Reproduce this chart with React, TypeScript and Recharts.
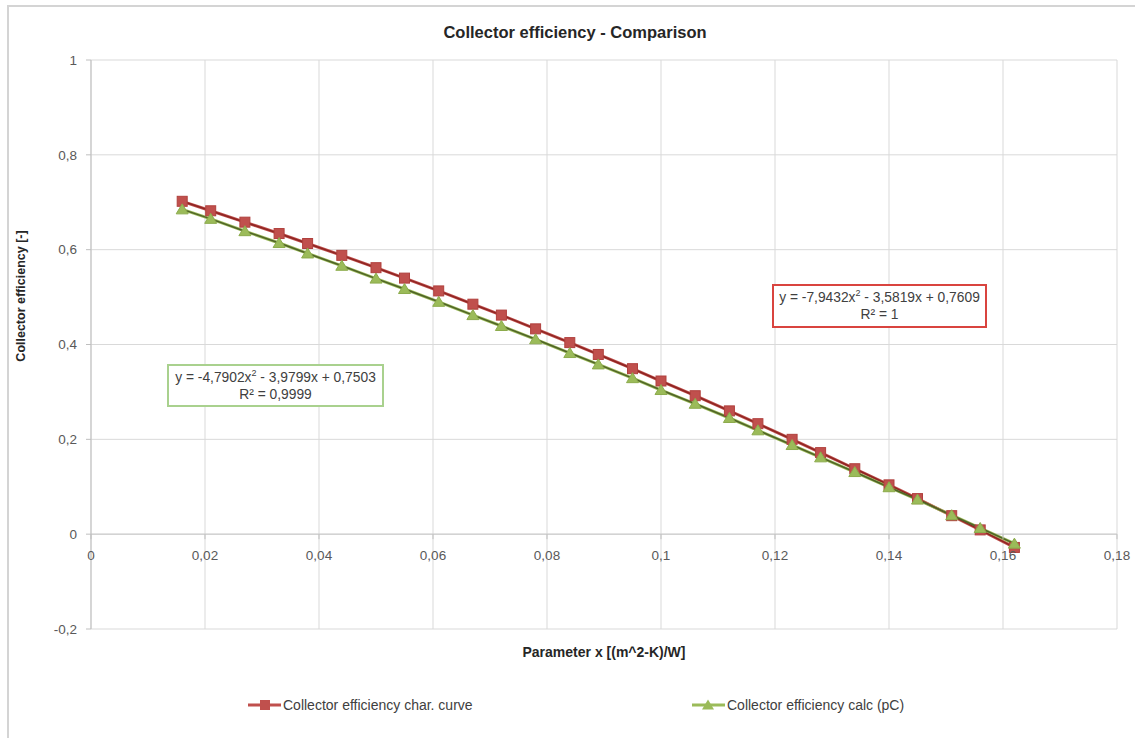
import React from "react";
import {
  LineChart,
  Line,
  XAxis,
  YAxis,
  CartesianGrid,
  ReferenceLine,
} from "recharts";

// parameter x [(m^2-K)/W]
const xValues = [
  0.016, 0.021, 0.027, 0.033, 0.038, 0.044, 0.05, 0.055, 0.061, 0.067, 0.072,
  0.078, 0.084, 0.089, 0.095, 0.1, 0.106, 0.112, 0.117, 0.123, 0.128, 0.134,
  0.14, 0.145, 0.151, 0.156, 0.162,
];

const charCurve = [
  0.702, 0.682, 0.658, 0.634, 0.613, 0.588, 0.562, 0.54, 0.513, 0.485, 0.462,
  0.433, 0.404, 0.379, 0.349, 0.323, 0.292, 0.26, 0.233, 0.2, 0.172, 0.138,
  0.104, 0.075, 0.039, 0.009, -0.028,
];

const calcPC = [
  0.685, 0.665, 0.639, 0.614, 0.592, 0.566, 0.539, 0.517, 0.49, 0.462, 0.439,
  0.411, 0.382, 0.358, 0.329, 0.304, 0.275, 0.245, 0.219, 0.188, 0.162, 0.131,
  0.099, 0.073, 0.04, 0.013, -0.02,
];

const xTicks = [0, 0.02, 0.04, 0.06, 0.08, 0.1, 0.12, 0.14, 0.16, 0.18];
const yTicks = [-0.2, 0, 0.2, 0.4, 0.6, 0.8, 1];

const rows = xValues.map((x, i) => ({ x, red: charCurve[i], green: calcPC[i] }));

const W = 1135;
const H = 738;
const PLOT_TOP = 60;
const PLOT_BOTTOM = 629;
const Y_MIN = -0.2;
const Y_MAX = 1;
const zeroY = PLOT_TOP + ((PLOT_BOTTOM - PLOT_TOP) * Y_MAX) / (Y_MAX - Y_MIN);

const FONT = '"Liberation Sans", Arial, sans-serif';
const RED = "#C0504D";
const RED_DARK = "#8E2522";
const GREEN = "#9BBB59";
const GREEN_DARK = "#4F6228";

const fmt = (v: number) => String(v).replace(".", ",");

const SquareDot = (props: any) => {
  const { cx, cy, index } = props;
  if (cx == null || cy == null) return <g key={`sq-${index}`} />;
  return (
    <rect
      key={`sq-${index}`}
      x={cx - 5}
      y={cy - 5}
      width={10}
      height={10}
      fill={RED}
      stroke="#B0403D"
      strokeWidth={1}
    />
  );
};

const TriangleDot = (props: any) => {
  const { cx, cy, index } = props;
  if (cx == null || cy == null) return <g key={`tr-${index}`} />;
  return (
    <polygon
      key={`tr-${index}`}
      points={`${cx},${cy - 5.5} ${cx + 6},${cy + 4.5} ${cx - 6},${cy + 4.5}`}
      fill={GREEN}
      stroke="#8CAB4C"
      strokeWidth={1}
    />
  );
};

const XTick = (props: any) => {
  const { x, payload } = props;
  return (
    <g>
      <line x1={x} x2={x} y1={zeroY} y2={zeroY + 5} stroke="#bfbfbf" />
      <text
        x={x}
        y={zeroY + 26}
        textAnchor="middle"
        fontSize={13.5}
        fill="#595959"
        fontFamily={FONT}
      >
        {fmt(payload.value)}
      </text>
    </g>
  );
};

const boxText: React.CSSProperties = {
  position: "absolute",
  fontFamily: FONT,
  fontSize: 13.8,
  color: "#404040",
  textAlign: "center",
  lineHeight: "17px",
  background: "#fff",
  boxSizing: "border-box",
  paddingTop: 3,
  whiteSpace: "nowrap",
};

const legendItem: React.CSSProperties = {
  position: "absolute",
  top: 697,
  display: "flex",
  alignItems: "center",
  fontSize: 14,
  color: "#404040",
  whiteSpace: "nowrap",
};

export default function App() {
  return (
    <div
      style={{
        position: "fixed",
        left: 0,
        top: 0,
        width: W,
        height: H,
        background: "#fff",
        fontFamily: FONT,
      }}
    >
      {/* chart area border, cut off at right and bottom */}
      <div
        style={{
          position: "absolute",
          left: 7,
          top: 5,
          width: W,
          height: H,
          borderTop: "2px solid #d4d4d4",
          borderLeft: "2px solid #d4d4d4",
        }}
      />

      <div
        style={{
          position: "absolute",
          left: 575,
          top: 32,
          transform: "translate(-50%, -50%)",
          whiteSpace: "nowrap",
          fontSize: 16.5,
          fontWeight: "bold",
          color: "#262626",
        }}
      >
        Collector efficiency - Comparison
      </div>

      <LineChart
        width={W}
        height={H}
        data={rows}
        margin={{ top: PLOT_TOP, right: 18, left: 21, bottom: 79 }}
        style={{ position: "absolute", left: 0, top: 0 }}
      >
        <CartesianGrid stroke="#d9d9d9" strokeWidth={1} />
        <XAxis
          dataKey="x"
          type="number"
          domain={[0, 0.18]}
          ticks={xTicks}
          height={30}
          axisLine={false}
          tickLine={false}
          tick={<XTick />}
          interval={0}
        />
        <YAxis
          type="number"
          domain={[Y_MIN, Y_MAX]}
          ticks={yTicks}
          width={70}
          tickFormatter={fmt}
          stroke="#bfbfbf"
          tickSize={5}
          tickMargin={9}
          tick={{ fill: "#595959", fontSize: 13.5, fontFamily: FONT }}
          interval={0}
        />
        <ReferenceLine y={0} stroke="#c8c8c8" strokeWidth={1} />
        <Line
          dataKey="red"
          stroke={RED}
          strokeWidth={3}
          dot={SquareDot}
          activeDot={false}
          isAnimationActive={false}
        />
        <Line
          dataKey="green"
          stroke={GREEN}
          strokeWidth={3}
          dot={TriangleDot}
          activeDot={false}
          isAnimationActive={false}
        />
        {/* trendlines */}
        <Line
          dataKey="red"
          stroke={RED_DARK}
          strokeWidth={1.5}
          dot={false}
          activeDot={false}
          isAnimationActive={false}
        />
        <Line
          dataKey="green"
          stroke={GREEN_DARK}
          strokeWidth={1.5}
          dot={false}
          activeDot={false}
          isAnimationActive={false}
        />
      </LineChart>

      {/* axis titles */}
      <div
        style={{
          position: "absolute",
          left: 21,
          top: 296,
          transform: "translate(-50%, -50%) rotate(-90deg)",
          whiteSpace: "nowrap",
          fontSize: 12.5,
          fontWeight: "bold",
          color: "#262626",
        }}
      >
        Collector efficiency [-]
      </div>
      <div
        style={{
          position: "absolute",
          left: 604,
          top: 652,
          transform: "translate(-50%, -50%)",
          whiteSpace: "nowrap",
          fontSize: 14,
          fontWeight: "bold",
          color: "#262626",
        }}
      >
        Parameter x [(m^2-K)/W]
      </div>

      {/* trendline equations */}
      <div
        style={{
          ...boxText,
          left: 167,
          top: 364,
          width: 217,
          height: 43,
          border: "2px solid #A9D18E",
        }}
      >
        y = -4,7902x<sup style={{ fontSize: 9, lineHeight: 0 }}>2</sup> - 3,9799x + 0,7503
        <br />
        R² = 0,9999
      </div>
      <div
        style={{
          ...boxText,
          left: 772,
          top: 284,
          width: 215,
          height: 44,
          border: "2px solid #D9443F",
        }}
      >
        y = -7,9432x<sup style={{ fontSize: 9, lineHeight: 0 }}>2</sup> - 3,5819x + 0,7609
        <br />
        R² = 1
      </div>

      {/* legend */}
      <div style={{ ...legendItem, left: 248 }}>
        <svg width={34} height={16}>
          <line x1={0} x2={33} y1={8} y2={8} stroke={RED} strokeWidth={3} />
          <rect x={12} y={3} width={10} height={10} fill={RED} />
        </svg>
        <span style={{ marginLeft: 1 }}>Collector efficiency char. curve</span>
      </div>
      <div style={{ ...legendItem, left: 692 }}>
        <svg width={34} height={16}>
          <line x1={0} x2={33} y1={8} y2={8} stroke={GREEN} strokeWidth={3} />
          <polygon points="16,2.5 22,12.5 10,12.5" fill={GREEN} />
        </svg>
        <span style={{ marginLeft: 1 }}>Collector efficiency calc (pC)</span>
      </div>
    </div>
  );
}
